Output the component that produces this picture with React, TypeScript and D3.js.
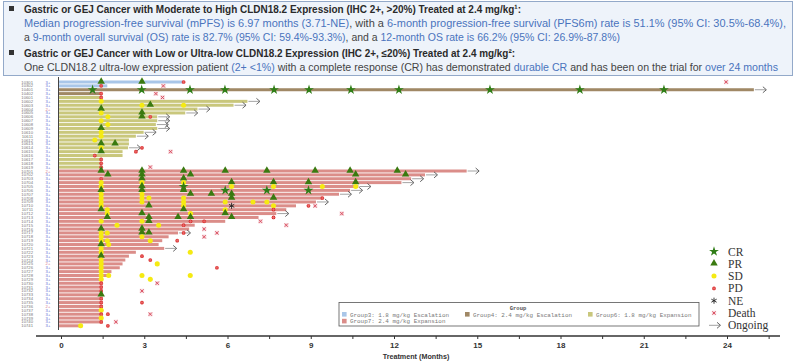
import React from "react";
import * as d3 from "d3";

const W = 800;
const H = 364;

// groups
const groupNames = [
  "Group3: 1.8 mg/kg Escalation",
  "Group4: 2.4 mg/kg Escalation",
  "Group6: 1.8 mg/kg Expansion",
  "Group7: 2.4 mg/kg Expansion",
];
const groupColors = ["#a9c6e8", "#a08865", "#c9c77c", "#db8d89"];

// one entry per patient row (top to bottom)
const patientGroup = [
  0, 0, 1, 1,
  2, 2, 2, 2, 2, 2, 2, 2, 2, 2, 2, 2, 2, 2, 2, 2, 2, 2, 2,
  3, 3, 3, 3, 3, 3, 3, 3, 3, 3, 3, 3, 3, 3, 3, 3, 3, 3, 3, 3,
  3, 3, 3, 3, 3, 3, 3, 3, 3, 3, 3, 3, 3, 3, 3, 3, 3, 3, 3, 3, 3,
];
const treatmentEnd = [
  4.4, 1.65, 24.95, 1.45,
  1.45, 6.7, 6.2, 4.9, 4.46, 3.45, 3.45, 3.4, 3.45, 2.96, 2.68, 2.43, 2.43, 2.4, 2.2, 2.2, 1.43, 1.43, 1.43,
  14.6, 13.1, 12.6, 12.25, 10.7, 10.4, 10.0, 9.4, 9.17, 8.45, 8.1, 7.74, 7.1, 5.9, 4.8, 4.6, 4.2, 3.86,
  3.63, 3.5, 3.7, 2.68, 2.43, 2.3, 2.2, 2.1, 1.8, 1.7, 1.49, 1.49, 1.49, 1.49, 1.49, 1.49, 1.49, 1.49,
  1.49, 1.49, 1.49, 1.49, 0.7,
];
const ongoingRows = [2, 5, 6, 7, 8, 9, 10, 11, 12, 13, 14, 17, 23, 24, 25, 26, 27, 28, 29, 31, 34, 39, 43];

const patientIds = [
  "10301", "10302", "10401", "10402", "10601", "10602", "10603", "10604", "10605", "10606", "10607",
  "10608", "10609", "10610", "10611", "10612", "10613", "10614", "10615", "10616", "10617", "10618",
  "10619", "10701", "10702", "10703", "10704", "10705", "10706", "10707", "10708", "10709", "10710",
  "10711", "10712", "10713", "10714", "10715", "10716", "10717", "10718", "10719", "10720", "10721",
  "10722", "10723", "10724", "10725", "10726", "10727", "10728", "10729", "10730", "10731", "10732",
  "10733", "10734", "10735", "10736", "10737", "10738", "10739", "10740", "10741",
];
const lowExpressionRows = [7, 23, 47, 58];

// [row, month, response]
const responses: [number, number, string][] = [
  [0, 1.43, "PR"], [0, 2.9, "PR"], [0, 4.4, "PD"],
  [1, 1.43, "PD"],
  [2, 1.12, "CR"], [2, 2.89, "CR"], [2, 4.63, "CR"], [2, 5.89, "CR"], [2, 7.66, "CR"], [2, 8.92, "CR"],
  [2, 10.43, "CR"], [2, 12.16, "CR"], [2, 15.44, "CR"], [2, 18.68, "CR"], [2, 21.71, "CR"],
  [3, 1.43, "PD"],
  [4, 1.43, "PD"],
  [5, 1.43, "SD"],
  [6, 2.9, "SD"], [6, 4.4, "SD"], [6, 3.2, "PR"],
  [7, 1.43, "PR"],
  [8, 1.43, "SD"], [8, 2.9, "PR"],
  [9, 1.67, "SD"], [9, 2.9, "PR"], [9, 3.2, "PD"],
  [10, 1.43, "SD"],
  [11, 1.67, "SD"],
  [12, 1.43, "PR"],
  [13, 1.43, "SD"],
  [14, 1.43, "SD"],
  [15, 1.2, "SD"],
  [16, 1.43, "PR"], [16, 1.93, "PR"],
  [17, 1.43, "SD"], [17, 2.9, "PD"],
  [18, 1.43, "PR"], [18, 2.68, "PD"],
  [19, 1.2, "PD"],
  [20, 1.43, "PD"], [21, 1.43, "PD"], [22, 1.43, "PD"],
  [23, 1.43, "PR"], [23, 2.9, "PR"], [23, 4.4, "PR"], [23, 5.9, "PR"], [23, 7.4, "PR"], [23, 9.14, "PR"],
  [23, 10.4, "PR"], [23, 12.1, "PR"],
  [24, 1.67, "PR"], [24, 2.9, "PR"], [24, 4.65, "PR"], [24, 10.6, "PR"], [24, 12.4, "PR"],
  [25, 1.43, "PD"], [25, 2.9, "PR"], [25, 4.4, "PR"],
  [26, 1.43, "SD"], [26, 2.9, "SD"], [26, 4.4, "SD"], [26, 6.13, "PR"], [26, 7.64, "PR"], [26, 8.9, "PR"], [26, 10.6, "PR"],
  [27, 1.43, "SD"], [27, 2.9, "PR"], [27, 4.4, "CR"], [27, 6.13, "SD"], [27, 7.64, "SD"], [27, 9.4, "SD"], [27, 10.6, "SD"],
  [28, 1.43, "PR"], [28, 2.9, "PR"], [28, 4.4, "PR"], [28, 5.9, "CR"], [28, 7.4, "CR"], [28, 8.9, "CR"],
  [29, 1.43, "SD"], [29, 2.9, "SD"], [29, 4.65, "PR"], [29, 5.4, "PR"], [29, 6.13, "PR"],
  [30, 1.43, "SD"], [30, 2.9, "SD"], [30, 3.15, "SD"], [30, 4.4, "SD"], [30, 6.13, "PR"], [30, 7.64, "PR"], [30, 9.4, "PD"],
  [31, 1.43, "SD"], [31, 2.9, "SD"], [31, 4.4, "SD"], [31, 5.9, "SD"], [31, 6.9, "SD"], [31, 7.4, "SD"],
  [32, 1.43, "SD"], [32, 3.15, "PR"], [32, 4.4, "SD"], [32, 6.13, "NE"], [32, 7.64, "SD"], [32, 8.9, "PD"],
  [33, 1.43, "PR"], [33, 1.65, "SD"], [33, 4.4, "PR"], [33, 5.9, "SD"], [33, 7.64, "PD"],
  [34, 1.65, "SD"], [34, 2.9, "PR"], [34, 4.65, "SD"], [34, 5.9, "PR"],
  [35, 1.65, "PR"], [35, 3.15, "PR"], [35, 4.2, "PR"], [35, 4.65, "PR"], [35, 6.13, "PR"], [35, 7.64, "PD"],
  [36, 1.43, "SD"], [36, 2.9, "SD"], [36, 3.15, "PR"], [36, 4.65, "PD"], [36, 5.14, "PD"],
  [37, 2.0, "SD"], [37, 3.5, "SD"], [37, 4.4, "PD"],
  [38, 1.43, "PR"], [38, 2.9, "PR"],
  [39, 1.43, "SD"], [39, 1.65, "SD"], [39, 2.9, "PR"], [39, 3.15, "PR"], [39, 4.4, "PD"],
  [40, 1.43, "SD"], [40, 2.9, "SD"],
  [41, 1.43, "SD"], [41, 1.65, "SD"], [41, 3.2, "SD"], [41, 4.17, "PD"],
  [42, 1.43, "PR"], [42, 1.7, "SD"],
  [43, 1.43, "SD"],
  [44, 1.43, "SD"], [44, 4.64, "SD"],
  [45, 1.43, "PR"], [45, 2.9, "PD"],
  [46, 1.43, "SD"], [46, 3.2, "PD"],
  [47, 1.43, "SD"], [47, 3.45, "SD"],
  [48, 1.43, "SD"], [48, 5.6, "PD"],
  [49, 1.43, "SD"],
  [50, 1.43, "SD"], [50, 1.7, "SD"], [50, 2.9, "SD"], [50, 4.64, "SD"],
  [51, 1.43, "SD"], [51, 3.2, "SD"],
  [52, 1.43, "PD"], [53, 1.43, "PD"], [54, 1.43, "PD"], [55, 1.43, "PR"], [56, 1.43, "PD"],
  [57, 1.43, "PD"], [57, 2.9, "PD"], [58, 1.43, "PD"], [59, 1.43, "SD"],
  [60, 1.43, "PD"], [60, 1.67, "PD"], [61, 1.43, "SD"], [62, 1.43, "PD"],
  [63, 0.69, "SD"], [63, 1.67, "PD"],
];

// [row, month]
const deaths: [number, number][] = [
  [0, 23.95], [1, 3.67], [3, 3.4], [4, 3.64], [18, 3.93], [22, 3.2], [32, 9.14], [34, 10.1],
  [36, 7.17], [37, 8.1], [38, 5.14], [39, 5.6], [40, 5.14], [52, 3.45], [54, 2.9], [60, 3.2], [62, 1.96],
];

const xTicks = [0, 3, 6, 9, 12, 15, 18, 21, 24];
const minorTicks = [1.5, 4.5, 7.5, 10.5, 13.5, 16.5, 19.5, 22.5, 25.5];
const legendItems = ["CR", "PR", "SD", "PD", "NE", "Death", "Ongoing"];

const x = d3.scaleLinear().domain([0, 24]).range([61.5, 727.5]);
const y = d3.scaleLinear().domain([0, patientGroup.length - 1]).range([82, 325.8]);

const star = d3.symbol(d3.symbolStar, 30)();
const tri = d3.symbol(d3.symbolTriangle, 24)();
const dot = d3.symbol(d3.symbolCircle, 20)();
const pd = d3.symbol(d3.symbolCircle, 11)();
const aster = d3.symbol(d3.symbolAsterisk, 26)();

function Marker({ type, cx, cy }: { type: string; cx: number; cy: number }) {
  const t = `translate(${cx},${cy})`;
  if (type === "CR") return <path d={star!} transform={t} fill="#2f7d16" />;
  if (type === "PR") return <path d={tri!} transform={`translate(${cx},${cy - 0.5})`} fill="#3a7a10" />;
  if (type === "SD") return <path d={dot!} transform={t} fill="#f5ea12" />;
  if (type === "PD")
    return (
      <g transform={t}>
        <path d={pd!} fill="#d92a2a" />
        <path d="M-1.8,0H1.8M0,-1.8V1.8" stroke="#f08080" strokeWidth={0.6} />
      </g>
    );
  if (type === "NE") return <path d={aster!} transform={t} fill="none" stroke="#222" strokeWidth={0.9} />;
  if (type === "Death")
    return (
      <g transform={t}>
        <rect x={-2.2} y={-2.2} width={4.4} height={4.4} fill="#f6d8dc" />
        <path d="M-1.6,-1.6L1.6,1.6M-1.6,1.6L1.6,-1.6" stroke="#d8475a" strokeWidth={0.9} />
      </g>
    );
  return (
    <g transform={t} fill="none" strokeWidth={0.9} stroke="#555">
      <path d="M0,0H11" stroke="#999" />
      <path d="M8,-3L11.5,0L8,3" />
    </g>
  );
}

const blue = "#4a74bd";
const dark = "#2a2a2a";
const grey = "#444";

export default function App() {
  const barH = 3.0;
  return (
    <svg width={W} height={H} style={{ position: "absolute", left: 0, top: 0, background: "#fff" }}>
      {/* header box */}
      <rect x={3.5} y={1.5} width={789} height={74} fill="#eef3fa" stroke="#93a9c9" />
      <g fontFamily="'Liberation Sans', Arial, sans-serif" fontSize={10.5}>
        <rect x={9} y={6} width={5} height={5} fill="#333" />
        <text x={24} y={12.5} fontWeight="bold" fill={dark} textLength={497} lengthAdjust="spacingAndGlyphs">
          Gastric or GEJ Cancer with Moderate to High CLDN18.2 Expression (IHC 2+, &gt;20%) Treated at 2.4 mg/kg¹:
        </text>
        <text x={24} y={27} fill={blue} textLength={762} lengthAdjust="spacingAndGlyphs">
          Median progression-free survival (mPFS) is 6.97 months (3.71-NE)<tspan fill={grey}>, with a </tspan>
          6-month progression-free survival (PFS6m) rate is 51.1% (95% CI: 30.5%-68.4%),
        </text>
        <text x={24} y={41} fill={blue} textLength={596} lengthAdjust="spacingAndGlyphs">
          <tspan fill={grey}>a </tspan>9-month overall survival (OS) rate is 82.7% (95% CI: 59.4%-93.3%)
          <tspan fill={grey}>, and a </tspan>12-month OS rate is 66.2% (95% CI: 26.9%-87.8%)
        </text>
        <rect x={9} y={50} width={5} height={5} fill="#333" />
        <text x={24} y={56.5} fontWeight="bold" fill={dark} textLength={491} lengthAdjust="spacingAndGlyphs">
          Gastric or GEJ Cancer with Low or Ultra-low CLDN18.2 Expression (IHC 2+, ≤20%) Treated at 2.4 mg/kg²:
        </text>
        <text x={24} y={71} fill={grey} textLength={754} lengthAdjust="spacingAndGlyphs">
          One CLDN18.2 ultra-low expression patient <tspan fill={blue}>(2+ &lt;1%)</tspan> with a complete response (CR) has
          demonstrated <tspan fill={blue}>durable CR</tspan> and has been on the trial for{" "}
          <tspan fill={blue}>over 24 months</tspan>
        </text>
      </g>

      {/* row labels */}
      <g fontFamily="'Liberation Sans', Arial, sans-serif" fontSize={4.2}>
        {patientIds.map((id, i) => (
          <text key={id} x={33} y={y(i) + 1.5} textAnchor="end" fill="#777">
            {id}
          </text>
        ))}
        {patientIds.map((id, i) => (
          <text
            key={"ihc" + id}
            x={48}
            y={y(i) + 1.5}
            textAnchor="middle"
            fill={lowExpressionRows.includes(i) ? "#d77a8a" : "#6a6fd6"}
          >
            {lowExpressionRows.includes(i) ? "2+" : "3+"}
          </text>
        ))}
      </g>

      {/* bars */}
      {treatmentEnd.map((end, i) => (
        <rect
          key={"bar" + i}
          x={59}
          y={y(i) - barH / 2}
          width={x(end) - 59}
          height={barH}
          fill={groupColors[patientGroup[i]]}
        />
      ))}

      {/* ongoing arrows */}
      {ongoingRows.map((r) => (
        <Marker key={"on" + r} type="Ongoing" cx={x(treatmentEnd[r]) + 1} cy={y(r)} />
      ))}

      {/* responses */}
      {responses.map(([r, m, t], k) => (
        <Marker key={"resp" + k} type={t} cx={x(m)} cy={y(r)} />
      ))}
      {deaths.map(([r, m], k) => (
        <Marker key={"d" + k} type="Death" cx={x(m)} cy={y(r)} />
      ))}

      {/* y axis */}
      <line x1={58.5} x2={58.5} y1={77} y2={330} stroke="#444" strokeWidth={1} />

      {/* x axis */}
      <g fontFamily="'Liberation Sans', Arial, sans-serif" fill="#333">
        <line x1={36} x2={780} y1={336} y2={336} stroke="#333" strokeWidth={1.3} />
        {xTicks.concat(minorTicks).map((t) => (
          <line key={"t" + t} x1={x(t)} x2={x(t)} y1={336} y2={339} stroke="#333" strokeWidth={1} />
        ))}
        {xTicks.map((t) => (
          <text key={"l" + t} x={x(t)} y={348} textAnchor="middle" fontSize={8} fontWeight="bold">
            {t}
          </text>
        ))}
        <text x={416} y={359} textAnchor="middle" fontSize={7.2} fontWeight="bold">
          Treatment (Months)
        </text>
      </g>

      {/* group legend */}
      <g fontFamily="'Liberation Mono', 'DejaVu Sans Mono', monospace">
        <rect x={339} y={302.5} width={360} height={23.5} fill="#fff" stroke="#555" strokeWidth={0.8} />
        <text x={518} y={309.5} textAnchor="middle" fontSize={5.5} fontWeight="bold" fill="#555">
          Group
        </text>
        {groupNames.map((g, i) => {
          const col = i < 3 ? i : 0;
          const row = i < 3 ? 0 : 1;
          const gx = 342 + col * 123;
          const gy = 314.5 + row * 6.8;
          return (
            <g key={g}>
              <rect x={gx} y={gy - 2.5} width={4.6} height={4.6} fill={groupColors[i]} />
              <text x={gx + 8} y={gy + 2} fontSize={5.9} fill="#777">
                {g}
              </text>
            </g>
          );
        })}
      </g>

      {/* response legend */}
      <g fontFamily="'Liberation Serif', 'Times New Roman', serif" fontSize={11.5} fill="#333">
        {legendItems.map((item, i) => {
          const ly = 251.5 + i * 12.3;
          return (
            <g key={item}>
              <Marker type={item} cx={item === "Ongoing" ? 709 : 714} cy={ly} />
              <text x={728} y={ly + 4}>
                {item}
              </text>
            </g>
          );
        })}
      </g>
    </svg>
  );
}
